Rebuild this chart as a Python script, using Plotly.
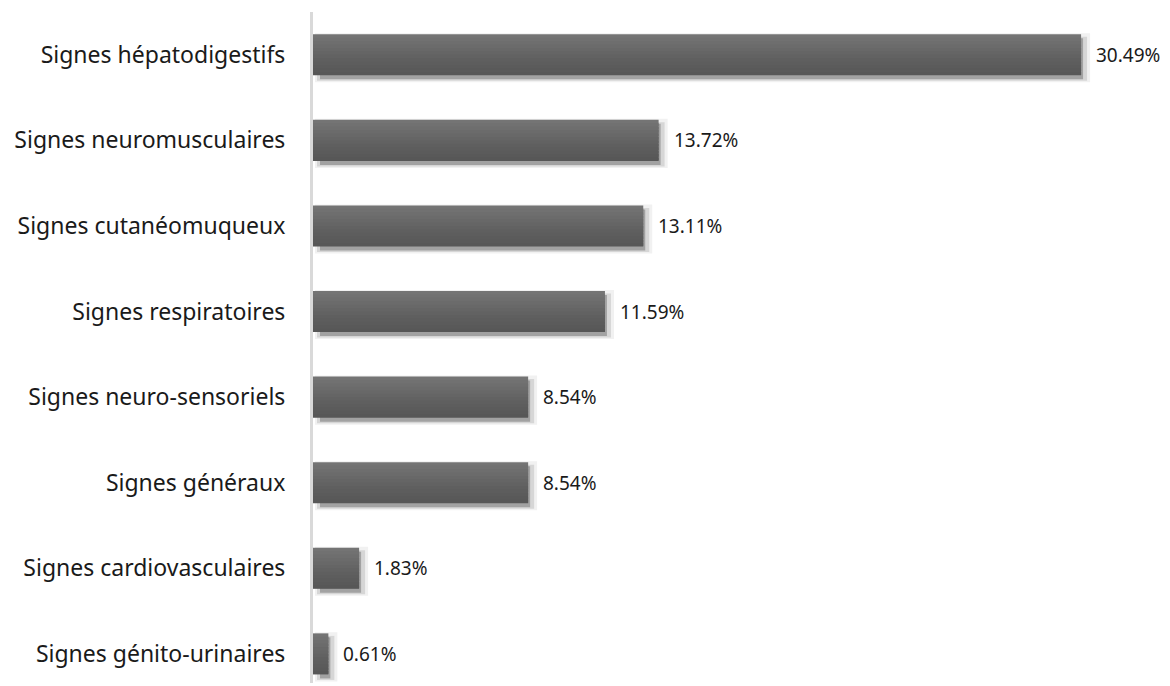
import plotly.graph_objects as go

# Distribution of clinical signs (% of cases)
categories = [
    "Signes hépatodigestifs",
    "Signes neuromusculaires",
    "Signes cutanéomuqueux",
    "Signes respiratoires",
    "Signes neuro-sensoriels",
    "Signes généraux",
    "Signes cardiovasculaires",
    "Signes génito-urinaires",
]
values = [30.49, 13.72, 13.11, 11.59, 8.54, 8.54, 1.83, 0.61]
value_labels = ["30.49%", "13.72%", "13.11%", "11.59%", "8.54%", "8.54%", "1.83%", "0.61%"]

BAR_W = 0.48          # bar thickness in category units
X_MAX = 34.02         # x-axis upper bound
PX_X = X_MAX / 857    # data units per pixel along x
PX_Y = 1 / 85.57      # category units per pixel along y

fig = go.Figure()

# soft drop shadow: blurred outer halo + darker core, shifted down/right
for color, shift_x, grow, shift_y, extra_h in [
    ("#f1f1f1", 2, 9, 3, 8),
    ("#d6d6d6", 4, 6, 4, 3),
    ("#a2a2a2", 7, 2, 4, 0),
]:
    fig.add_trace(go.Bar(
        y=categories,
        x=[max(v - shift_x * PX_X + grow * PX_X, 0) for v in values],
        base=shift_x * PX_X,
        orientation="h",
        width=BAR_W + extra_h * PX_Y,
        offset=-BAR_W / 2 + shift_y * PX_Y - extra_h * PX_Y / 2,
        marker=dict(color=color, line=dict(width=0)),
        hoverinfo="skip",
        showlegend=False,
    ))

# main bars drawn as horizontal slices to give a vertical gradient
grad = ["#747474", "#717171", "#6e6e6e", "#6b6b6b", "#686868", "#656565",
        "#626262", "#5f5f5f", "#5d5d5d", "#5b5b5b", "#595959", "#575757"]
n = len(grad)
slice_w = BAR_W / n
for i, c in enumerate(grad):
    last = i == n - 1
    fig.add_trace(go.Bar(
        y=categories,
        x=values,
        orientation="h",
        width=slice_w if last else slice_w * 1.8,
        offset=-BAR_W / 2 + i * slice_w,
        marker=dict(color=c, line=dict(width=0)),
        hoverinfo="skip",
        showlegend=False,
    ))

# value labels to the right of each bar
for cat, v, lab in zip(categories, values, value_labels):
    fig.add_annotation(
        x=v, y=cat, text=lab, showarrow=False,
        xanchor="left", xshift=13,
        font=dict(family="Noto Sans", size=19, color="#1a1a1a"),
    )

fig.update_layout(
    width=1170, height=686,
    margin=dict(l=313, r=0, t=12, b=3),
    paper_bgcolor="white", plot_bgcolor="white",
    barmode="overlay",
    showlegend=False,
    xaxis=dict(range=[0, X_MAX], visible=False, fixedrange=True),
    yaxis=dict(
        categoryorder="array", categoryarray=categories,
        range=[7.34, -0.5],
        showgrid=False, zeroline=False,
        showline=True, linecolor="#d9d9d9", linewidth=3,
        ticks="", ticklabelstandoff=20,
        tickfont=dict(family="Noto Sans", size=23, color="#1a1a1a"),
    ),
)

fig.write_html("out.html")
